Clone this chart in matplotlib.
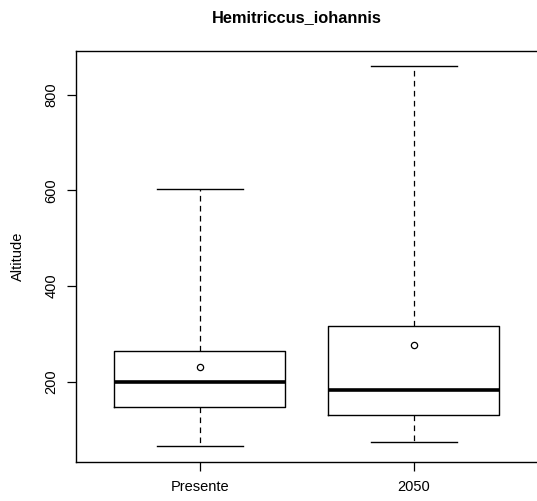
import matplotlib
matplotlib.use("Agg")
import matplotlib.pyplot as plt

categories = ['Presente', '2050']
whislo = [64, 73]
q1 = [146, 130]
med = [198, 183]
q3 = [263, 316]
whishi = [604, 860]
means = [231, 277]
yticks = [200, 400, 600, 800]

plt.rcParams['font.family'] = ['Liberation Sans', 'DejaVu Sans']

W, H = 537, 501
fig = plt.figure(figsize=(W / 100, H / 100), dpi=100)
left_px, right_px, top_px, bot_px = 75.5, 538, 51, 461.7
ax = fig.add_axes([left_px / W, (H - bot_px) / H, (right_px - left_px) / W, (bot_px - top_px) / H])

stats = []
for i, c in enumerate(categories):
    stats.append(dict(label=c, whislo=whislo[i], q1=q1[i], med=med[i], q3=q3[i],
                      whishi=whishi[i], mean=means[i], fliers=[]))

ax.bxp(stats, positions=[1, 2], widths=0.8, showmeans=True, meanline=False,
       boxprops=dict(color='black', linewidth=1.0),
       medianprops=dict(color='black', linewidth=2.6, solid_capstyle='butt'),
       whiskerprops=dict(color='black', linewidth=0.9, linestyle=(0, (4.5, 3.5))),
       capprops=dict(color='black', linewidth=1.0),
       capwidths=0.4,
       meanprops=dict(marker='o', markerfacecolor='white', markeredgecolor='black',
                      markersize=4.5, markeredgewidth=0.9))

lo, hi = min(whislo), max(whishi)
ext = 0.04 * (hi - lo)
ax.set_ylim(lo - ext, hi + ext)
ax.set_xlim(0.42, 2.58)
ax.set_yticks(yticks)
ax.set_yticklabels([str(t) for t in yticks], rotation=90, va='center')
ax.set_xticks([1, 2])
ax.set_xticklabels(categories)
ax.tick_params(axis='both', length=6.5, width=0.9, labelsize=10.5, color='black')
ax.tick_params(axis='y', pad=6)
ax.tick_params(axis='x', pad=7)
for s in ax.spines.values():
    s.set_linewidth(1.0)
    s.set_color('black')

ax.set_ylabel('Altitude', fontsize=10.5, labelpad=14)
fig.text(297 / W, 1 - 18 / H, 'Hemitriccus_iohannis', ha='center', va='center',
         fontsize=11.8, fontweight='bold')

fig.savefig('out.png', dpi=100)
